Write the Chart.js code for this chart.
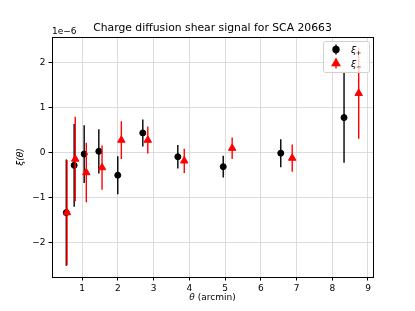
<!DOCTYPE html>
<html>
<head>
<meta charset="utf-8">
<script src="https://cdn.jsdelivr.net/npm/chart.js@4.4.1/dist/chart.umd.min.js"></script>
<style>
  html, body { margin: 0; padding: 0; background: #fff; }
  canvas { display: block; }
</style>
</head>
<body>
<canvas id="chart" width="415" height="311"></canvas>
<script>
// Values in units of 1e-6 (shown as offset text on the y axis)
const thetaPlus = [0.56, 0.78, 1.06, 1.47, 2.0, 2.7, 3.68, 4.95, 6.56, 8.33];
const xiPlus = [-1.33, -0.28, -0.03, 0.03, -0.5, 0.44, -0.09, -0.31, -0.01, 0.78];
const errPlus = [1.18, 0.92, 0.64, 0.49, 0.42, 0.30, 0.26, 0.24, 0.31, 1.0];

const thetaMinus = [0.58, 0.81, 1.12, 1.56, 2.1, 2.84, 3.86, 5.2, 6.88, 8.74];
const xiMinus = [-1.33, -0.14, -0.44, -0.33, 0.28, 0.28, -0.18, 0.1, -0.12, 1.32];
const errMinus = [1.17, 0.94, 0.66, 0.49, 0.42, 0.30, 0.27, 0.24, 0.30, 1.01];

const xTicks = [1, 2, 3, 4, 5, 6, 7, 8, 9];
const yTicks = [-2, -1, 0, 1, 2];

const FONT = 'DejaVu Sans';

// Helper to format tick labels with a real minus sign
function fmtTick(v) {
  return v < 0 ? '\u2212' + Math.abs(v) : String(v);
}

// Draws the error bars of each dataset just before its markers
const errorBars = {
  id: 'errorBars',
  beforeDatasetDraw(chart, args) {
    const ds = chart.data.datasets[args.index];
    const xs = chart.scales.x, ys = chart.scales.y;
    const ctx = chart.ctx;
    ctx.save();
    ctx.strokeStyle = ds.borderColor;
    ctx.lineWidth = 1.4;
    ds.data.forEach((p, i) => {
      const px = xs.getPixelForValue(p.x);
      ctx.beginPath();
      ctx.moveTo(px, ys.getPixelForValue(p.y - ds.errors[i]));
      ctx.lineTo(px, ys.getPixelForValue(p.y + ds.errors[i]));
      ctx.stroke();
    });
    ctx.restore();
  }
};

// Title, offset text, axis labels, frame and legend
const decorations = {
  id: 'decorations',
  afterDraw(chart) {
    const ctx = chart.ctx;
    const a = chart.chartArea;
    ctx.save();

    // top and right spines
    ctx.strokeStyle = '#000';
    ctx.lineWidth = 1;
    ctx.strokeRect(a.left + 0.5, a.top + 0.5, a.right - a.left, a.bottom - a.top);

    ctx.fillStyle = '#000';
    ctx.textAlign = 'center';
    ctx.textBaseline = 'alphabetic';
    ctx.font = `10.8px "${FONT}"`;
    ctx.fillText('Charge diffusion shear signal for SCA 20663', (a.left + a.right) / 2, a.top - 6);

    ctx.font = `9px "${FONT}"`;
    ctx.textAlign = 'left';
    ctx.fillText('1e\u22126', a.left, a.top - 3);

    // x label
    ctx.textAlign = 'center';
    ctx.textBaseline = 'middle';
    const xl = (a.left + a.right) / 2;
    ctx.font = `italic 9px "${FONT}"`;
    const wTheta = ctx.measureText('\u03b8').width;
    ctx.font = `9px "${FONT}"`;
    const wRest = ctx.measureText(' (arcmin)').width;
    const x0 = xl - (wTheta + wRest) / 2;
    ctx.textAlign = 'left';
    ctx.font = `italic 9px "${FONT}"`;
    ctx.fillText('\u03b8', x0, 298);
    ctx.font = `9px "${FONT}"`;
    ctx.fillText(' (arcmin)', x0 + wTheta, 298);

    // y label
    ctx.save();
    ctx.translate(21, (a.top + a.bottom) / 2);
    ctx.rotate(-Math.PI / 2);
    ctx.textAlign = 'center';
    ctx.font = `italic 9px "${FONT}"`;
    ctx.fillText('\u03be(\u03b8)', 0, 0);
    ctx.restore();

    // legend
    const lx = 323, ly = 41, lw = 46, lh = 31;
    ctx.beginPath();
    ctx.roundRect(lx + 0.5, ly + 0.5, lw, lh, 2);
    ctx.fillStyle = 'rgba(255,255,255,0.8)';
    ctx.fill();
    ctx.strokeStyle = '#d0d0d0';
    ctx.lineWidth = 1;
    ctx.stroke();

    const entries = [
      { ds: chart.data.datasets[0], y: 49.5, sub: '+' },
      { ds: chart.data.datasets[1], y: 63.5, sub: '\u2212' }
    ];
    entries.forEach(e => {
      const mx = 336;
      ctx.strokeStyle = e.ds.borderColor;
      ctx.lineWidth = 1.4;
      ctx.beginPath();
      ctx.moveTo(mx, e.y - 5);
      ctx.lineTo(mx, e.y + 5);
      ctx.stroke();
      ctx.fillStyle = e.ds.backgroundColor;
      Chart.helpers.drawPoint(ctx, {
        pointStyle: e.ds.pointStyle,
        radius: e.ds.pointRadius,
        borderWidth: 1
      }, mx, e.y);
      ctx.fillStyle = '#000';
      ctx.textAlign = 'left';
      ctx.textBaseline = 'alphabetic';
      ctx.font = `italic 9.5px "${FONT}"`;
      ctx.fillText('\u03be', 351, e.y + 3);
      ctx.font = `6.5px "${FONT}"`;
      ctx.fillText(e.sub, 356, e.y + 5.5);
    });

    ctx.restore();
  }
};

const axisCommon = {
  type: 'linear',
  grid: {
    color: '#d3d3d3',
    lineWidth: 0.8,
    tickColor: '#000',
    tickLength: 3.5,
    tickWidth: 1
  },
  border: { display: true, color: '#000', width: 1 },
  ticks: {
    color: '#000',
    font: { family: FONT, size: 9 },
    padding: 3,
    autoSkip: false,
    maxRotation: 0,
    callback: (v) => fmtTick(v)
  }
};

new Chart(document.getElementById('chart'), {
  type: 'scatter',
  data: {
    datasets: [
      {
        label: '\u03be+',
        data: thetaPlus.map((t, i) => ({ x: t, y: xiPlus[i] })),
        errors: errPlus,
        backgroundColor: '#000',
        borderColor: '#000',
        pointStyle: 'circle',
        pointRadius: 3,
        pointBorderWidth: 1,
        order: 2
      },
      {
        label: '\u03be\u2212',
        data: thetaMinus.map((t, i) => ({ x: t, y: xiMinus[i] })),
        errors: errMinus,
        backgroundColor: '#ff0000',
        borderColor: '#ff0000',
        pointStyle: 'triangle',
        pointRadius: 4.3,
        pointBorderWidth: 1,
        order: 1
      }
    ]
  },
  options: {
    responsive: false,
    animation: false,
    layout: { padding: { top: 37, right: 42, bottom: 0, left: 0 } },
    plugins: {
      legend: { display: false },
      title: { display: false },
      tooltip: { enabled: false }
    },
    scales: {
      x: {
        ...axisCommon,
        min: 0.16,
        max: 9.14,
        afterFit: (s) => { s.height = 34; },
        afterBuildTicks: (s) => { s.ticks = xTicks.map(v => ({ value: v })); }
      },
      y: {
        ...axisCommon,
        min: -2.76,
        max: 2.57,
        afterFit: (s) => { s.width = 52; },
        afterBuildTicks: (s) => { s.ticks = yTicks.map(v => ({ value: v })); }
      }
    }
  },
  plugins: [errorBars, decorations]
});
</script>
</body>
</html>
